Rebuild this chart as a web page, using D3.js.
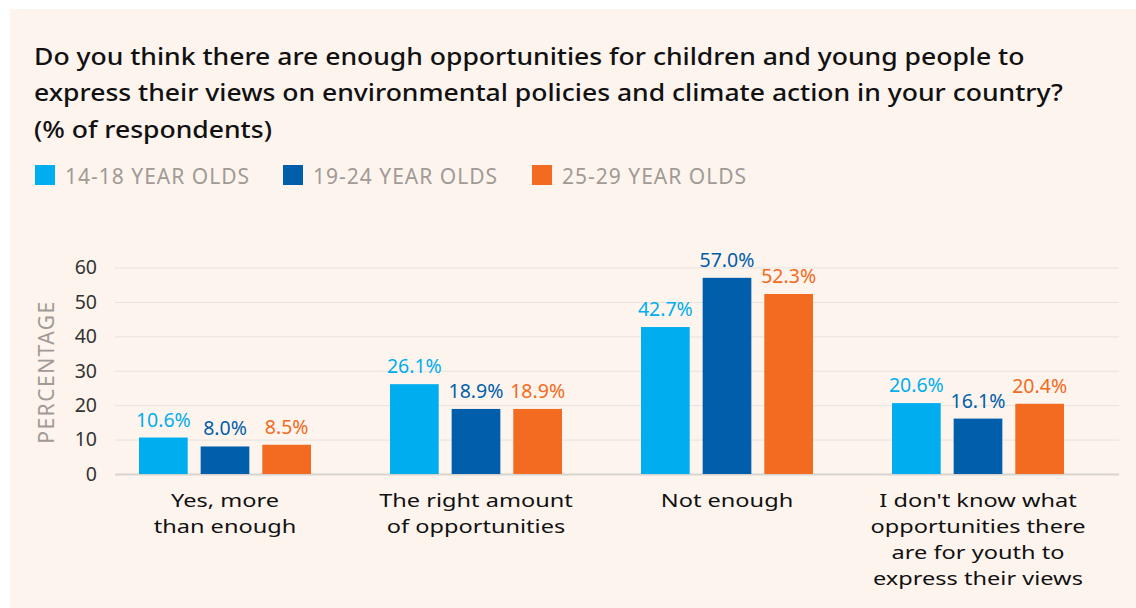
<!DOCTYPE html>
<html>
<head>
<meta charset="utf-8">
<script src="https://cdn.jsdelivr.net/npm/d3@7"></script>
<style>
  html, body { margin: 0; padding: 0; background: #ffffff; }
  svg { display: block; font-family: "Noto Sans", sans-serif; }
</style>
</head>
<body>
<svg id="chart" width="1136" height="608"></svg>
<script>
// Survey answers (categories) and the share of respondents per age group
const categories = [
  ["Yes, more", "than enough"],
  ["The right amount", "of opportunities"],
  ["Not enough"],
  ["I don't know what", "opportunities there", "are for youth to", "express their views"]
];
const seriesNames = ["14-18 YEAR OLDS", "19-24 YEAR OLDS", "25-29 YEAR OLDS"];
const age14to18 = [10.6, 26.1, 42.7, 20.6];
const age19to24 = [8.0, 18.9, 57.0, 16.1];
const age25to29 = [8.5, 18.9, 52.3, 20.4];
const yTicks = [0, 10, 20, 30, 40, 50, 60];
const titleLines = [
  "Do you think there are enough opportunities for children and young people to",
  "express their views on environmental policies and climate action in your country?",
  "(% of respondents)"
];

const seriesValues = [age14to18, age19to24, age25to29];
const colors = ["#00aeef", "#005eab", "#f26b21"];

const svg = d3.select("#chart");

// horizontal widening for text blocks, anchored at a given x
const widen = (ax, s) => `translate(${ax},0) scale(${s},1) translate(${-ax},0)`;

// panel background
svg.append("rect")
  .attr("x", 10).attr("y", 9)
  .attr("width", 1126).attr("height", 599)
  .attr("fill", "#fdf4ee");

// title
const title = svg.append("text")
  .attr("transform", widen(34, 1.105))
  .attr("x", 34).attr("y", 65)
  .attr("font-size", 24)
  .attr("font-weight", 500)
  .attr("fill", "#111");
titleLines.forEach((t, i) => {
  title.append("tspan").attr("x", 34).attr("y", 65 + i * 36.5).text(t);
});

// legend
const legendX = [35, 283, 532];
const legend = svg.append("g");
seriesNames.forEach((name, i) => {
  legend.append("rect")
    .attr("x", legendX[i]).attr("y", 165)
    .attr("width", 20).attr("height", 20)
    .attr("fill", colors[i]);
  legend.append("text")
    .attr("x", legendX[i] + 30).attr("y", 184)
    .attr("font-size", 21)
    .attr("letter-spacing", 1)
    .attr("fill", "#a29a96")
    .text(name);
});

// scales
const y = d3.scaleLinear().domain([0, 60]).range([474, 267.5]);
const x0 = d3.scaleBand().domain(d3.range(categories.length)).range([99.5, 1103.5]);
const x1 = d3.scaleBand().domain(d3.range(seriesNames.length))
  .range([0, 172]).paddingInner(0.21).paddingOuter(0);
const gridLeft = 115, gridRight = 1119;

// gridlines
const yAxis = d3.axisLeft(y).tickValues(yTicks)
  .tickSize(-(gridRight - gridLeft)).tickPadding(18);
const gy = svg.append("g")
  .attr("transform", `translate(${gridLeft},0)`)
  .call(yAxis);
gy.select(".domain").remove();
gy.selectAll(".tick line")
  .attr("stroke", d => d === 0 ? "#d8d3cf" : "#e7e2dd")
  .attr("stroke-width", d => d === 0 ? 2 : 1);
gy.selectAll(".tick text")
  .attr("font-size", 19.5)
  .attr("font-family", "Noto Sans, sans-serif")
  .attr("fill", "#333");

// y axis title
svg.append("text")
  .attr("transform", `translate(54,372) rotate(-90)`)
  .attr("text-anchor", "middle")
  .attr("font-size", 21)
  .attr("letter-spacing", 1.5)
  .attr("fill", "#a29a96")
  .text("PERCENTAGE");

// bars
const groups = svg.append("g").selectAll("g")
  .data(categories.map((c, i) => i))
  .join("g")
  .attr("transform", i => `translate(${x0(i) + (x0.bandwidth() - 172) / 2},0)`);

groups.selectAll("rect")
  .data(i => seriesValues.map((s, k) => ({ k, v: s[i] })))
  .join("rect")
  .attr("x", d => x1(d.k))
  .attr("width", x1.bandwidth())
  .attr("y", d => y(d.v))
  .attr("height", d => y(0) - y(d.v))
  .attr("fill", d => colors[d.k]);

groups.selectAll("text.value")
  .data(i => seriesValues.map((s, k) => ({ k, v: s[i] })))
  .join("text")
  .attr("class", "value")
  .attr("x", d => x1(d.k) + x1.bandwidth() / 2)
  .attr("y", d => y(d.v) - 11)
  .attr("text-anchor", "middle")
  .attr("font-size", 19.5)
  .attr("fill", d => colors[d.k])
  .text(d => d.v.toFixed(1) + "%");

// category labels, one text per line
const xl = svg.append("g").selectAll("g")
  .data(categories)
  .join("g")
  .attr("transform", (d, i) => widen(x0(i) + x0.bandwidth() / 2, 1.24));
xl.each(function (lines, i) {
  const cx = x0(i) + x0.bandwidth() / 2;
  d3.select(this).selectAll("text")
    .data(lines)
    .join("text")
    .attr("text-anchor", "middle")
    .attr("font-size", 19)
    .attr("fill", "#111")
    .attr("x", cx)
    .attr("y", (d, j) => 507 + j * 26)
    .text(d => d);
});
</script>
</body>
</html>
